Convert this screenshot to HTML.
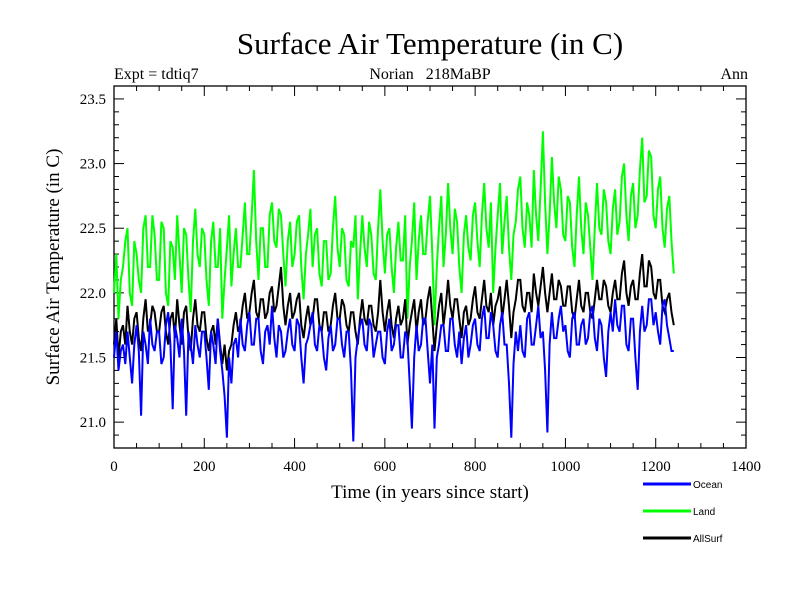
<!DOCTYPE html>
<html><head><meta charset="utf-8"><style>
body{margin:0;background:#fff;}
svg text{font-family:"Liberation Serif",serif;}
</style></head><body>
<svg id="chart" width="800" height="600" xmlns="http://www.w3.org/2000/svg">
<text x="430" y="54" font-size="31" text-anchor="middle">Surface Air Temperature (in C)</text>
<text x="114" y="79" font-size="16">Expt = tdtiq7</text>
<text x="430" y="79" font-size="16" text-anchor="middle" xml:space="preserve">Norian   218MaBP</text>
<text x="748" y="79" font-size="16" text-anchor="end">Ann</text>
<text x="430" y="498" font-size="19" text-anchor="middle">Time (in years since start)</text>
<text transform="translate(59,267) rotate(-90)" font-size="19" text-anchor="middle">Surface Air Temperature (in C)</text>
<g id="axes"></g>
<g id="series"></g>
<g id="legend"></g>
</svg>
<script>
const xTicks=[0,200,400,600,800,1000,1200,1400];
const yTicks=[21.0,21.5,22.0,22.5,23.0,23.5];
const seriesNames=["Land","AllSurf","Ocean"];
const ocean=[21.5,21.7,21.4,21.55,21.6,21.45,21.7,21.5,21.3,21.6,21.75,21.55,21.05,21.7,21.6,21.45,21.8,21.6,21.55,21.7,
21.7,21.45,21.5,21.75,21.85,21.6,21.1,21.75,21.65,21.5,21.8,21.55,21.05,21.7,21.6,21.45,21.75,21.6,21.5,21.7,
21.7,21.5,21.25,21.7,21.6,21.45,21.8,21.55,21.4,21.2,20.88,21.5,21.3,21.6,21.65,21.5,21.8,21.6,21.55,21.75,
21.85,21.6,21.6,21.8,21.8,21.55,21.45,21.7,21.75,21.6,21.9,21.65,21.5,21.75,21.7,21.5,21.55,21.7,21.8,21.6,
21.55,21.8,21.75,21.5,21.3,21.6,21.65,21.75,21.85,21.6,21.55,21.75,21.7,21.5,21.4,21.65,21.75,21.55,21.6,21.8,
21.8,21.6,21.5,21.7,21.7,21.4,20.85,21.5,21.65,21.75,21.8,21.6,21.55,21.8,21.75,21.5,21.6,21.7,21.7,21.5,
21.45,21.7,21.8,21.55,21.6,21.75,21.75,21.5,21.5,21.7,21.65,21.3,20.95,21.5,21.75,21.55,21.6,21.8,21.8,21.55,
21.3,21.6,20.95,21.5,21.6,21.75,21.75,21.55,21.55,21.8,21.8,21.6,21.5,21.7,21.45,21.65,21.75,21.5,21.6,21.75,
21.8,21.6,21.55,21.8,21.9,21.65,21.65,21.85,21.75,21.55,21.5,21.75,21.85,21.6,21.6,21.3,20.88,21.45,21.7,21.55,
21.75,21.55,21.5,21.8,21.85,21.6,21.6,21.75,21.9,21.65,21.7,21.4,20.92,21.6,21.85,21.65,21.65,21.8,21.9,21.7,
21.75,21.55,21.5,21.8,21.85,21.6,21.6,21.75,21.8,21.6,21.65,21.85,21.9,21.65,21.55,21.8,21.75,21.5,21.35,21.7,
21.85,21.7,21.95,21.75,21.7,21.9,21.9,21.6,21.55,21.8,21.8,21.5,21.25,21.7,21.9,21.7,21.75,21.95,21.95,21.75,
21.85,21.7,21.6,21.9,21.95,21.75,21.65,21.55,21.55];
const land=[22.0,22.3,21.8,22.1,22.2,22.4,22.5,22.0,21.9,22.4,22.3,22.1,22.0,22.5,22.6,22.2,22.2,22.6,22.45,22.1,
22.1,22.55,22.5,22.0,21.9,22.4,22.35,22.1,22.6,22.3,22.0,22.5,22.45,22.1,21.85,22.4,22.65,22.3,22.2,22.5,
22.45,22.1,21.9,22.4,22.55,22.2,22.2,22.5,21.8,22.1,22.35,22.6,22.05,22.3,22.5,22.2,22.2,22.45,22.7,22.3,
22.3,22.6,22.95,22.4,22.1,22.5,22.5,22.2,22.2,22.6,22.7,22.4,22.35,22.65,22.6,22.3,22.05,22.4,22.55,22.2,
22.3,22.55,22.6,22.2,21.95,22.3,22.45,22.65,22.2,22.45,22.5,22.15,22.05,22.4,22.4,22.1,22.15,22.5,22.75,22.35,
22.2,22.5,22.45,22.1,22.05,22.4,22.35,22.6,21.95,22.3,22.6,22.35,22.2,22.55,22.45,22.15,22.1,22.5,22.8,22.4,
22.15,22.45,22.5,22.2,22.0,22.35,22.55,22.25,22.25,22.6,21.8,22.2,22.4,22.7,22.1,22.4,22.6,22.3,22.3,22.55,
22.75,22.3,21.75,22.2,22.5,22.75,22.2,22.45,22.85,22.5,22.3,22.65,22.55,22.2,22.0,22.45,22.6,22.35,22.25,22.6,
22.7,22.4,22.2,22.6,22.85,22.5,22.35,22.7,22.0,22.35,22.6,22.85,22.3,22.55,22.75,22.35,22.1,22.45,22.55,22.8,
22.9,22.5,22.35,22.7,22.6,22.35,22.95,22.6,22.4,22.8,23.25,22.7,22.3,22.6,23.05,22.7,22.5,22.9,22.8,22.45,
22.4,22.75,22.7,22.35,22.2,22.6,22.9,22.5,22.3,22.7,22.6,22.35,22.1,22.5,22.85,22.5,22.45,22.8,22.7,22.4,
22.3,22.65,22.8,22.45,22.55,22.9,23.0,22.6,22.4,22.75,22.85,22.5,22.6,22.95,23.2,22.7,22.75,23.1,23.05,22.6,
22.5,22.8,22.9,22.5,22.35,22.65,22.75,22.4,22.15];
const allSurf=[21.6,21.8,21.5,21.7,21.75,21.6,21.9,21.7,21.6,21.8,21.85,21.65,21.55,21.8,21.95,21.7,21.75,21.9,21.85,21.7,
21.7,21.85,21.9,21.7,21.6,21.8,21.85,21.65,21.95,21.75,21.6,21.85,21.9,21.65,21.55,21.8,21.95,21.75,21.7,21.85,
21.85,21.65,21.55,21.7,21.75,21.6,21.8,21.6,21.45,21.6,21.4,21.55,21.6,21.75,21.85,21.7,21.75,21.9,22.0,21.8,
21.85,22.0,22.1,21.85,21.8,21.95,21.95,21.8,21.85,22.0,22.05,21.85,21.9,22.05,22.2,21.9,21.75,21.9,22.0,21.8,
21.85,21.95,22.0,21.75,21.65,21.8,21.9,21.75,21.8,21.95,21.95,21.75,21.7,21.85,21.85,21.7,21.75,21.9,22.0,21.8,
21.8,21.95,21.9,21.75,21.7,21.85,21.85,21.7,21.6,21.8,21.95,21.8,21.75,21.9,21.9,21.75,21.7,21.85,22.1,21.85,
21.7,21.85,21.95,21.75,21.65,21.8,21.9,21.75,21.8,21.95,21.6,21.75,21.85,21.95,21.7,21.85,21.95,21.75,21.8,21.95,
22.05,21.8,21.55,21.75,21.9,22.0,21.75,21.9,22.1,21.9,21.8,21.95,21.95,21.8,21.65,21.85,21.9,21.75,21.8,21.95,
22.05,21.85,21.8,21.95,22.1,21.9,21.85,22.0,21.75,21.9,21.95,22.05,21.8,21.95,22.1,21.9,21.65,21.85,21.95,22.1,
22.1,21.9,21.85,22.0,22.0,21.85,22.15,22.0,21.9,22.05,22.2,22.0,21.85,22.0,22.15,21.95,21.95,22.1,22.05,21.9,
21.9,22.05,22.05,21.85,21.8,21.95,22.1,21.9,21.85,22.0,22.0,21.85,21.8,21.95,22.1,21.95,21.95,22.1,22.05,21.9,
21.85,22.0,22.1,21.95,21.95,22.15,22.25,22.0,21.9,22.05,22.1,21.95,21.95,22.15,22.3,22.05,22.05,22.25,22.2,22.0,
21.95,22.1,22.1,21.9,21.85,21.95,22.0,21.85,21.75];
const yearStep=5;

const NS="http://www.w3.org/2000/svg";
const L=114,R=746,T=86,B=448,X0=0,X1=1400,Y0=20.8,Y1=23.6;
const xs=v=>L+(v-X0)/(X1-X0)*(R-L);
const ys=v=>B-(v-Y0)/(Y1-Y0)*(B-T);
function mk(tag,attrs,parent){const e=document.createElementNS(NS,tag);for(const k in attrs)e.setAttribute(k,attrs[k]);parent.appendChild(e);return e;}
const axes=document.getElementById('axes');
const frame=mk('rect',{x:L,y:T,width:R-L,height:B-T,fill:'none',stroke:'#000','stroke-width':1.3},axes);


for(let v=0;v<=1400;v+=50){
  const major=v%200===0,len=major?10:5,x=xs(v);
  const t1=mk('line',{x1:x,y1:B,x2:x,y2:B-len,stroke:'#000'},axes);
  
  
  const t2=mk('line',{x1:x,y1:T,x2:x,y2:T+len,stroke:'#000'},axes);
  
  
}
xTicks.forEach(v=>{
  const t=mk('text',{x:xs(v),y:B+23,'font-size':15,'text-anchor':'middle'},axes);t.textContent=v;
  
  
});
for(let i=0;i<=28;i++){
  const v=20.8+i*0.1,y=ys(v),major=Math.abs(v*2-Math.round(v*2))<1e-6,len=major?10:5;
  const t1=mk('line',{x1:L,y1:y,x2:L+len,y2:y,stroke:'#000'},axes);
  
  
  const t2=mk('line',{x1:R,y1:y,x2:R-len,y2:y,stroke:'#000'},axes);
  
  
}
yTicks.forEach(v=>{
  const t=mk('text',{x:L-8,y:ys(v)+5,'font-size':15,'text-anchor':'end'},axes);t.textContent=v.toFixed(1);
  
  
});
const sg=document.getElementById('series');
const data={Land:[land,'#00ff00'],AllSurf:[allSurf,'#000000'],Ocean:[ocean,'#0000ff']};
seriesNames.forEach(n=>{
  const [vals,col]=data[n];
  const pts=vals.map((v,i)=>xs(i*yearStep).toFixed(1)+','+ys(v).toFixed(1)).join(' ');
  const p=mk('polyline',{points:pts,fill:'none',stroke:col,'stroke-width':2,'stroke-linejoin':'miter'},sg);
  
  
});
const lg=document.getElementById('legend');
[['Ocean','#0000ff',484],['Land','#00ff00',511],['AllSurf','#000000',538]].forEach(([n,c,y])=>{
  const g=mk('g',{},lg);
  
  
  mk('line',{x1:643,y1:y,x2:691,y2:y,stroke:c,'stroke-width':3},g);
  const t=mk('text',{x:693,y:y+4,'font-size':10,style:'font-family:"Liberation Sans",sans-serif'},g);t.textContent=n;
});
</script>
</body></html>
